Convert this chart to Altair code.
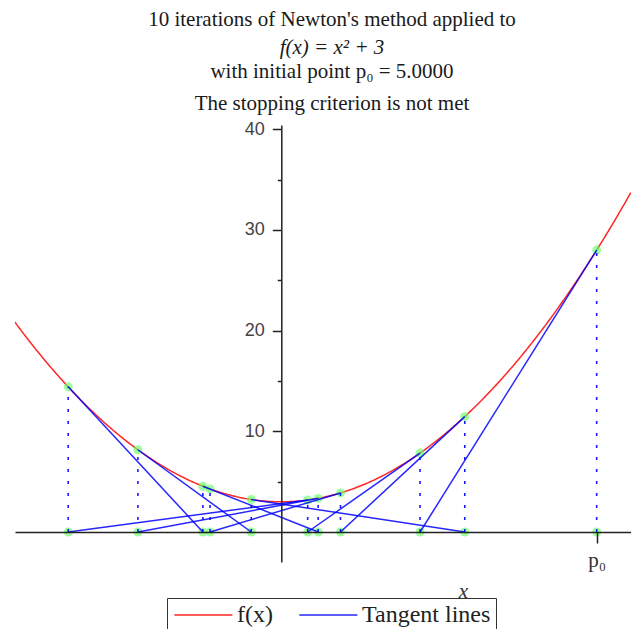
import altair as alt
import pandas as pd

# Newton iterates p_n and f(p_n) for f(x) = x^2 + 3, p0 = 5
P = [5.0000, 2.2000, 0.4182, -3.3779, -1.2434, 0.5847, -2.2731, -0.4767, 2.9085, 0.9385, -1.1291]
FP = [28.0000, 7.8400, 3.1749, 14.4200, 4.5460, 3.3419, 8.1671, 3.2272, 11.4592, 3.8808, 4.2748]
SERIES = ["f(x)", "Tangent lines"]
COLORS = ["#ff0000", "#0000ff"]
Y_TICKS = [5, 10, 15, 20, 25, 30, 35, 40]
X_TICKS = [5]
X_TICK_LABEL = "p\u2080"
TITLE_LINES = [
    "10 iterations of Newton's method applied to",
    "f(x) = x\u00b2 + 3",
    "with initial point p\u2080 = 5.0000",
    "The stopping criterion is not met",
]

XMIN, XMAX = -4.2216, 5.5438
YMIN, YMAX = -2.979, 40.417
W, H = 616, 437

SERIF = "Liberation Serif"
SANS = "Liberation Sans"

xscale = alt.Scale(domain=[XMIN, XMAX], nice=False, zero=False)
yscale = alt.Scale(domain=[YMIN, YMAX], nice=False, zero=False)

xaxis = alt.Axis(values=X_TICKS, labelExpr="'" + X_TICK_LABEL + "'", offset=-30, grid=False,
                 domainColor="#222222", domainWidth=1.5, tickColor="#222222", tickWidth=1.5,
                 tickSize=11, labelFont=SERIF, labelFontSize=21, labelColor="#333333",
                 labelBaseline="alphabetic", labelPadding=23, title="x", titleFont=SERIF,
                 titleFontStyle="italic", titleFontSize=21, titleFontWeight="normal",
                 titleColor="#333333", titleX=448, titleY=65, titleBaseline="alphabetic",
                 titleAlign="center", zindex=1)
yaxis = alt.Axis(values=Y_TICKS, labelExpr="datum.value % 10 === 0 ? datum.label : ''",
                 offset=-266.3, grid=False, domainColor="#222222", domainWidth=1.5,
                 tickColor="#222222", tickWidth=1.5,
                 tickSize={"condition": {"test": "datum.value % 10 === 0", "value": 9}, "value": 4},
                 labelFont=SANS, labelFontSize=18, labelColor="#444444", labelPadding=8,
                 title=None, zindex=1)

X = alt.X("x:Q", scale=xscale, axis=xaxis)
Y = alt.Y("y:Q", scale=yscale, axis=yaxis)

# legend line symbol: path from -r to 5r (r = sqrt(size)/2) -> 58 px long line
SYM_SIZE = 374
SYM_PATH = "M-1,0L5,0"

color = alt.Color(
    "series:N",
    scale=alt.Scale(domain=SERIES, range=COLORS),
    legend=alt.Legend(orient="none", legendX=152, legendY=473, direction="horizontal", title=None,
                      strokeColor="#333333", padding=5, symbolType=SYM_PATH, symbolSize=SYM_SIZE,
                      symbolStrokeWidth=1.5, labelFont=SERIF, labelFontSize=24,
                      labelColor="#222222", labelOffset=41, columnPadding=23, labelLimit=0,
                      fillColor="white"),
)

curve = alt.Chart(alt.sequence(-4.24, 5.56, 0.02, as_="x")).transform_calculate(
    y="datum.x * datum.x + 3", series="'f(x)'"
).mark_line(strokeWidth=1.5, opacity=0.85, clip=True).encode(x=X, y=Y, color=color)

pts = pd.DataFrame({"x": P + P, "y": [0.0] * len(P) + FP})
points = alt.Chart(pts).mark_circle(size=80, color="#66ff66", opacity=0.65).encode(x=X, y=Y)

dotted_df = pd.DataFrame({"x": P, "y": [0.0] * len(P), "y2": FP})
dotted = alt.Chart(dotted_df).mark_rule(color="#0000ff", strokeWidth=1.6,
                                        strokeDash=[3, 9], opacity=0.9).encode(
    x=X, y=Y, y2="y2:Q")

tan_df = pd.DataFrame({"x": P[:-1], "y": FP[:-1], "x2": P[1:], "y2": [0.0] * (len(P) - 1),
                       "series": ["Tangent lines"] * (len(P) - 1)})
tangents = alt.Chart(tan_df).mark_rule(strokeWidth=1.5, opacity=0.85).encode(
    x=X, y=Y, x2="x2:Q", y2="y2:Q", color=color)

title_y = [-99, -71, -47, -15]
title_style = ["normal", "italic", "normal", "normal"]
texts = []
for line, ty, st in zip(TITLE_LINES, title_y, title_style):
    texts.append(
        alt.Chart(pd.DataFrame({"t": [line]})).mark_text(
            font=SERIF, fontSize=21, fontStyle=st, color="#1a1a1a", align="center",
            baseline="alphabetic"
        ).encode(x=alt.value(317), y=alt.value(ty), text="t:N")
    )

chart = alt.layer(curve, points, dotted, tangents, *texts).properties(
    width=W, height=H,
    autosize=alt.AutoSizeParams(type="none"),
    padding={"left": 7, "top": 117, "right": 0, "bottom": 67},
    background="white",
).configure_view(stroke=None)

chart.save("out.html", embed_options={"renderer": "svg", "actions": False})
